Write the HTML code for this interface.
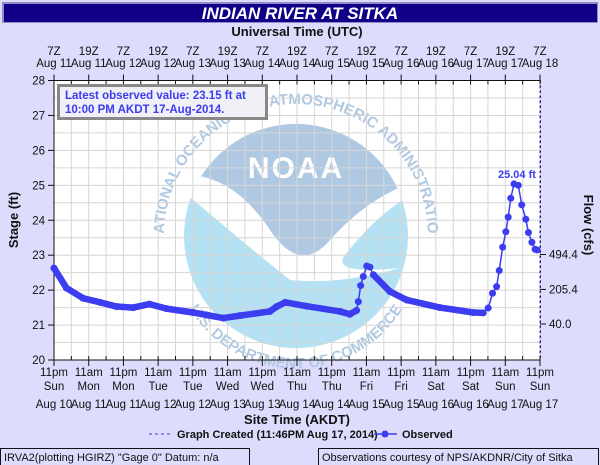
<!DOCTYPE html>
<html><head><meta charset="utf-8">
<style>
body{margin:0;width:600px;height:465px;overflow:hidden;background:#dddcfc;font-family:"Liberation Sans",sans-serif;}
svg{display:block}
</style></head>
<body>
<svg width="600" height="465" viewBox="0 0 600 465" font-family="Liberation Sans, sans-serif">
<rect x="0" y="0" width="600" height="465" fill="#dddcfc"/>
<g>
<rect x="2" y="2" width="596" height="21" fill="#8f8fc8"/>
<rect x="4" y="4" width="593" height="18" fill="#100088"/>
<text x="300" y="19" text-anchor="middle" fill="#fff" font-size="17" font-weight="bold" font-style="italic">INDIAN RIVER AT SITKA</text>
</g>
<text x="297" y="36" text-anchor="middle" font-size="13" font-weight="bold" fill="#111">Universal Time (UTC)</text>
<rect x="54" y="80.5" width="486" height="279.5" fill="#fff"/>
<g id="logo">
<defs>
<clipPath id="lc"><circle cx="296" cy="236" r="112"/></clipPath>
<path id="ring" d="M 164 236 A 132 132 0 0 1 428 236"/>
<path id="ringb" d="M 180 290 A 125 125 0 0 0 412 290"/>
</defs>
<circle cx="296" cy="236" r="112" fill="#b4e2f4"/>
<g clip-path="url(#lc)">
<path d="M 170 120 L 430 120 L 430 190 Q 370 210 330 250 Q 300 280 260 240 Q 220 190 170 190 Z" fill="#b0c9e3"/>
<path d="M 176 175 Q 230 170 270 230 Q 300 275 330 240 Q 370 195 420 180 L 420 190 Q 380 210 345 255 Q 330 275 400 268 Q 340 285 290 280 Q 240 240 176 185 Z" fill="#fff"/>
</g>
<text x="296" y="178" text-anchor="middle" font-size="30" font-weight="bold" fill="#fff" letter-spacing="2">NOAA</text>
<text font-size="15" font-weight="bold" fill="#b0c8e2"><textPath href="#ring" startOffset="50%" text-anchor="middle">NATIONAL OCEANIC AND ATMOSPHERIC ADMINISTRATION</textPath></text>
<text font-size="15" font-weight="bold" fill="#b0c8e2"><textPath href="#ringb" startOffset="50%" text-anchor="middle">U.S. DEPARTMENT OF COMMERCE</textPath></text>
</g>
<g id="grid"></g>
<g id="axes"></g>
<g id="series"></g>
<g>
<rect x="58.5" y="85.5" width="208" height="33" fill="#f0f0f6" stroke="#888" stroke-width="3"/>
<text x="65" y="99" font-size="11.5" font-weight="bold" fill="#3c3cf0">Latest observed value: 23.15 ft at</text>
<text x="65" y="113" font-size="11.5" font-weight="bold" fill="#3c3cf0">10:00 PM AKDT 17-Aug-2014.</text>
</g>
<text x="18" y="220" transform="rotate(-90 18 220)" text-anchor="middle" font-size="13" font-weight="bold" fill="#111">Stage (ft)</text>
<text x="584" y="225" transform="rotate(90 584 225)" text-anchor="middle" font-size="13" font-weight="bold" fill="#111">Flow (cfs)</text>
<text x="297" y="424" text-anchor="middle" font-size="13" font-weight="bold" fill="#111">Site Time (AKDT)</text>
<g>
<line x1="149" y1="434" x2="170" y2="434" stroke="#3c3cf0" stroke-dasharray="3,3"/>
<text x="177" y="438" font-size="11" font-weight="bold" fill="#111">Graph Created (11:46PM Aug 17, 2014)</text>
<line x1="374" y1="434" x2="397" y2="434" stroke="#3c3cf0" stroke-width="1.5"/>
<circle cx="385" cy="434" r="3.5" fill="#3c3cf0"/>
<text x="402" y="438" font-size="11" font-weight="bold" fill="#111">Observed</text>
</g>
<g>
<rect x="0.5" y="448.5" width="249" height="17" fill="none" stroke="#111"/>
<text x="4" y="461" font-size="11" fill="#111">IRVA2(plotting HGIRZ) "Gage 0" Datum: n/a</text>
</g>
<g>
<rect x="318.5" y="448.5" width="280" height="17" fill="none" stroke="#111"/>
<text x="322" y="461" font-size="11" fill="#111">Observations courtesy of NPS/AKDNR/City of Sitka</text>
</g>
</svg>
<script>
const hours = [0,4.3,10,16,21.6,27.4,33,38.9,48,52.7,58.5,64.3,74.6,77,79.9,87.3,98.9,102.3,104.6,105.2,106,106.9,108.1,109.2,110.4,116.1,121.9,133.4,144.9,148.4,150.1,151.6,153,153.9,155.1,156.2,157,157.9,159,160.5,161.7,163.1,164,165.2,166.3,167];
const stage = [22.63,22.06,21.77,21.65,21.53,21.5,21.6,21.47,21.36,21.29,21.2,21.27,21.39,21.53,21.65,21.54,21.39,21.31,21.42,21.67,22.13,22.39,22.69,22.66,22.44,21.96,21.72,21.5,21.36,21.35,21.49,21.91,22.1,22.56,23.23,23.67,24.09,24.63,25.04,25.0,24.44,24.03,23.65,23.37,23.17,23.15];
const yTicks = [20,21,22,23,24,25,26,27,28];
const flowTicks = ["40.0","205.4","494.4"];
const flowTickStage = [21.03,22.02,23.02];
const topLabels1 = ["7Z","19Z","7Z","19Z","7Z","19Z","7Z","19Z","7Z","19Z","7Z","19Z","7Z","19Z","7Z"];
const topLabels2 = ["Aug 11","Aug 11","Aug 12","Aug 12","Aug 13","Aug 13","Aug 14","Aug 14","Aug 15","Aug 15","Aug 16","Aug 16","Aug 17","Aug 17","Aug 18"];
const botLabels1 = ["11pm","11am","11pm","11am","11pm","11am","11pm","11am","11pm","11am","11pm","11am","11pm","11am","11pm"];
const botLabels2 = ["Sun","Mon","Mon","Tue","Tue","Wed","Wed","Thu","Thu","Fri","Fri","Sat","Sat","Sun","Sun"];
const botLabels3 = ["Aug 10","Aug 11","Aug 11","Aug 12","Aug 12","Aug 13","Aug 13","Aug 14","Aug 14","Aug 15","Aug 15","Aug 16","Aug 16","Aug 17","Aug 17"];
const peakLabel = "25.04 ft";

const NS="http://www.w3.org/2000/svg";
const X0=54,X1=540,Y0=360,Y1=80.5,H=168,VMIN=20,VMAX=28;
const xs=h=>X0+(X1-X0)*h/H;
const ys=v=>Y0-(Y0-Y1)*(v-VMIN)/(VMAX-VMIN);
function mk(tag,attrs,parent){const e=document.createElementNS(NS,tag);for(const k in attrs)e.setAttribute(k,attrs[k]);parent.appendChild(e);return e;}
const grid=document.getElementById('grid'),axes=document.getElementById('axes'),ser=document.getElementById('series');
for(let h=6;h<H;h+=6){const l=mk('line',{x1:xs(h),x2:xs(h),y1:Y1,y2:Y0,stroke:'#d6d6d6'},grid);

}
for(let v=20.5;v<28;v+=0.5){const l=mk('line',{x1:X0,x2:X1,y1:ys(v),y2:ys(v),stroke:'#d6d6d6'},grid);

}
mk('line',{x1:X0,x2:X0,y1:Y1,y2:Y0,stroke:'#111'},axes);
mk('line',{x1:X0,x2:X1,y1:Y0,y2:Y0,stroke:'#111'},axes);
mk('line',{x1:X0,x2:X1,y1:Y1,y2:Y1,stroke:'#111'},axes);
mk('line',{x1:X1,x2:X1,y1:Y1,y2:Y0,stroke:'#3c3cf0','stroke-dasharray':'3,2'},axes);
mk('line',{x1:X1+0.5,x2:X1+0.5,y1:Y1,y2:Y0,stroke:'#111','stroke-dasharray':'2,3'},axes);
yTicks.forEach(v=>{mk('line',{x1:X0-6,x2:X0,y1:ys(v),y2:ys(v),stroke:'#111'},axes);
const t=mk('text',{x:X0-9,y:ys(v)+4,'text-anchor':'end','font-size':'11.5',fill:'#111'},axes);t.textContent=v;

});
flowTicks.forEach((s,i)=>{const y=ys(flowTickStage[i]);mk('line',{x1:X1,x2:X1+6,y1:y,y2:y,stroke:'#111'},axes);
const t=mk('text',{x:X1+9,y:y+4,'font-size':'11.5',fill:'#111'},axes);t.textContent=s;

});
for(let i=0;i<15;i++){const x=xs(i*12);
mk('line',{x1:x,x2:x,y1:Y1-6,y2:Y1+4,stroke:'#111'},axes);
mk('line',{x1:x,x2:x,y1:Y0-4,y2:Y0+6,stroke:'#111'},axes);
if(i<14){const xm=xs(i*12+6);mk('line',{x1:xm,x2:xm,y1:Y1,y2:Y1+4,stroke:'#111'},axes);mk('line',{x1:xm,x2:xm,y1:Y0-4,y2:Y0,stroke:'#111'},axes);}
[[topLabels1[i],55],[topLabels2[i],67],[botLabels1[i],376],[botLabels2[i],390],[botLabels3[i],408]].forEach(([s,y])=>{
const t=mk('text',{x:x,y:y,'text-anchor':'middle','font-size':'11.5',fill:'#111'},axes);t.textContent=s;

});}
const C='#3c3cf0';
for(let i=1;i<hours.length;i++){const gap=hours[i]-hours[i-1];
const seg=mk('line',{x1:xs(hours[i-1]),y1:ys(stage[i-1]),x2:xs(hours[i]),y2:ys(stage[i]),stroke:C,'stroke-width':gap>2?6.5:1.5,'stroke-linecap':'round'},ser);

}
hours.forEach((h,i)=>{const c=mk('circle',{cx:xs(h),cy:ys(stage[i]),r:3.5,fill:C},ser);

});
let pi=0;stage.forEach((v,i)=>{if(v>stage[pi])pi=i;});
const pl=mk('text',{x:xs(hours[pi])+3,y:ys(stage[pi])-6,'text-anchor':'middle','font-size':'11','font-weight':'bold',fill:C},ser);
pl.textContent=peakLabel;


</script>
</body></html>
